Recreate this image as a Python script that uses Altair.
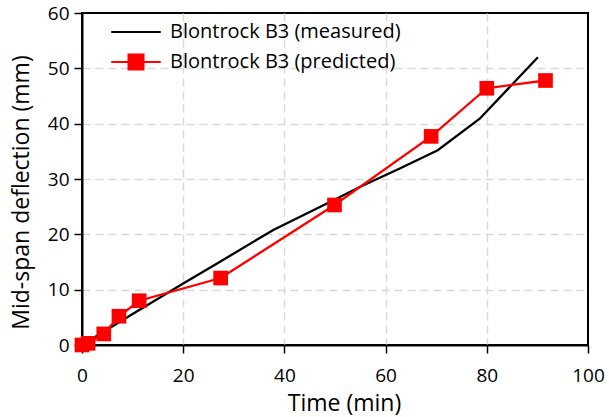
import altair as alt
import pandas as pd

# Measured curve (time in min, mid-span deflection in mm)
meas_t = [0, 10, 20, 27.2, 37.8, 50, 55, 62.8, 70.3, 78.6, 90.1]
meas_d = [0, 5.6, 11.1, 15.0, 20.8, 26.3, 28.6, 31.9, 35.2, 40.9, 52.0]

# Predicted curve
pred_t = [0, 1.2, 4.3, 7.3, 11.3, 27.4, 49.9, 69.0, 80.0, 91.6]
pred_d = [0, 0.3, 2.0, 5.2, 8.0, 12.1, 25.3, 37.7, 46.4, 47.8]

series_names = ["Blontrock B3 (measured)", "Blontrock B3 (predicted)"]
series_colors = ["#000000", "#ff0000"]

x_ticks = [0, 20, 40, 60, 80, 100]
y_ticks = [0, 10, 20, 30, 40, 50, 60]

df = pd.concat([
    pd.DataFrame({"t": meas_t, "d": meas_d, "series": series_names[0], "order": range(len(meas_t))}),
    pd.DataFrame({"t": pred_t, "d": pred_d, "series": series_names[1], "order": range(len(pred_t))}),
])
df_pred = df[df["series"] == series_names[1]]

FONT = "Open Sans"

x_enc = alt.X("t:Q", scale=alt.Scale(domain=[0, 100], nice=False),
              axis=alt.Axis(values=x_ticks, title="Time (min)", titleX=262,
                            labelFlush=False,
                            gridOpacity=alt.condition("datum.value >= 100 || datum.value <= 0", alt.value(0), alt.value(1))))
y_enc = alt.Y("d:Q", scale=alt.Scale(domain=[0, 60], nice=False),
              axis=alt.Axis(values=y_ticks, title="Mid-span deflection (mm)",
                            titleX=-49, titleY=179, labelFlush=False,
                            gridOpacity=alt.condition("datum.value >= 60 || datum.value <= 0", alt.value(0), alt.value(1))))

color_scale = alt.Scale(domain=series_names, range=series_colors)

# legend symbols: a plain line, and a line through a square
shape_scale = alt.Scale(domain=series_names, range=[
    "M-3.3,0L3.3,0",
    "M-3.3,0L-1,0M1,0L3.3,0M-1,-1L1,-1L1,1L-1,1Z",
])

legend_cfg = dict(
    title=None, orient="none", legendX=44, legendY=9,
    symbolOpacity=1, symbolStrokeWidth=2,
    symbolSize=225, labelFontSize=20, labelFont=FONT, labelColor="#000000",
    labelOffset=24, rowPadding=8, labelLimit=400,
)

lines = alt.Chart(df).mark_line(strokeWidth=2.3).encode(
    x=x_enc, y=y_enc, order="order:Q",
    color=alt.Color("series:N", scale=color_scale, legend=alt.Legend(**legend_cfg)),
)

points = alt.Chart(df_pred).mark_square(size=215, opacity=1, color="#ff0000").encode(
    x="t:Q", y="d:Q",
)

legend_layer = alt.Chart(df).mark_point(filled=True, opacity=0, size=225).encode(
    x="t:Q", y="d:Q",
    color=alt.Color("series:N", scale=color_scale, legend=alt.Legend(**legend_cfg)),
    stroke=alt.Stroke("series:N", scale=color_scale, legend=alt.Legend(**legend_cfg)),
    shape=alt.Shape("series:N", scale=shape_scale, legend=alt.Legend(**legend_cfg)),
)

chart = alt.layer(lines, points, legend_layer).properties(
    width=506, height=332,
    autosize=alt.AutoSizeParams(type="none"),
    padding={"left": 82, "top": 13, "right": 21, "bottom": 72},
    background="white",
).configure_view(
    stroke="#000000", strokeWidth=2,
).configure_axis(
    labelFont=FONT, labelFontSize=19, labelColor="#000000",
    titleFont=FONT, titleFontSize=23, titleFontWeight="normal", titleColor="#000000",
    domainColor="#000000", domainWidth=2,
    tickColor="#000000", tickWidth=1.5, tickSize=8,
    grid=True, gridColor="#d9d9d9", gridWidth=1.5, gridDash=[8, 5],
    labelPadding=5,
).configure_axisX(
    labelPadding=13, titlePadding=7,
).save("out.html", embed_options={"renderer": "svg", "actions": False})
